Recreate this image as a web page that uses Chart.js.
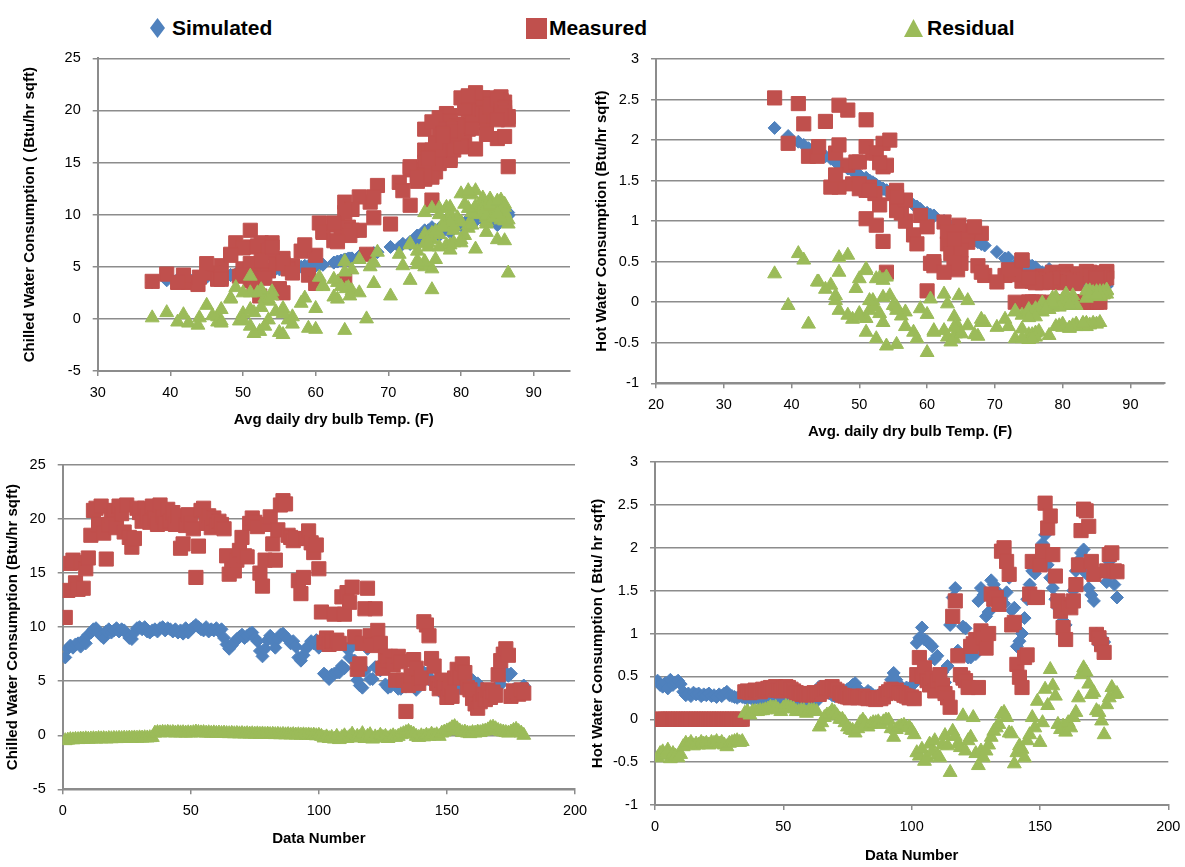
<!DOCTYPE html>
<html>
<head>
<meta charset="utf-8">
<script src="https://cdn.jsdelivr.net/npm/chart.js@4.4.0/dist/chart.umd.min.js"></script>
<style>
  body { margin: 0; background: #fff; width: 1185px; height: 867px; position: relative; overflow: hidden;
         font-family: "Liberation Sans", Arial, sans-serif; }
  canvas { position: absolute; }
  .leg { position: absolute; top: 16px; height: 24px; display: flex; align-items: center;
         font-weight: bold; font-size: 21px; color: #000; }
  .mk { display: inline-block; }
</style>
</head>
<body>

<div class="leg" style="left:150px"><span class="mk" style="width:15px;height:20px;background:#4F81BD;clip-path:polygon(50% 0,100% 50%,50% 100%,0 50%);margin-right:7px"></span>Simulated</div>
<div class="leg" style="left:526px"><span class="mk" style="width:21px;height:21px;background:#C0504D;margin-right:2px"></span>Measured</div>
<div class="leg" style="left:904px"><span class="mk" style="width:19px;height:18px;background:#9BBB59;clip-path:polygon(50% 0,100% 100%,0 100%);margin-right:4px"></span>Residual</div>

<canvas id="tl" width="590" height="400" style="left:0;top:45px"></canvas>
<canvas id="tr" width="595" height="400" style="left:590px;top:45px"></canvas>
<canvas id="bl" width="590" height="422" style="left:0;top:445px"></canvas>
<canvas id="br" width="595" height="422" style="left:590px;top:445px"></canvas>

<script>
// average daily dry bulb temperature (F), one per data number
const tempF = [
  73, 75, 76, 75, 76.5, 75, 75.5, 76, 75.5, 78,
  81, 83, 83, 82, 80, 79.5, 82, 83.5, 82, 83,
  83.5, 83, 83.5, 83.5, 81.5, 80, 79, 81, 84, 85,
  84.5, 85.5, 83, 83, 84, 84.5, 83.5, 85.5, 85.5, 84.5,
  85.5, 84.5, 84, 84.5, 84, 85, 83.5, 85.5, 84, 85.5,
  86.5, 86.5, 86, 86, 85, 86, 86, 86, 85.5, 86.5,
  86, 85.5, 85, 76.5, 77, 78.5, 78.5, 79, 80.5, 81.5,
  80, 80, 81.5, 81, 78, 77, 75, 74, 76, 78.5,
  80.5, 79, 77, 78.5, 81, 82, 81, 79.5, 78.5, 78.5,
  77, 73, 71.5, 73, 75, 76, 77.5, 76.5, 77.5, 75.5,
  76, 64.2, 63, 61, 63.5, 64, 64.5, 65, 68.5, 67.5,
  74, 72, 75, 70.3, 60, 53, 51, 66, 74, 60.5,
  61, 68, 68, 66, 67, 54, 51, 52.5, 58, 56.8,
  49, 50, 51.5, 52.3, 53.5, 54.5, 52, 48.3, 56.2, 55.5,
  65, 64, 62.5, 58.5, 53.5, 50, 46.5, 47, 45.8, 42.5,
  39.5, 37.5, 45, 48.3, 51, 53.5, 55.5, 56.8, 59, 60,
  55, 55.5, 51.5, 46.5, 43.8, 41.8, 41, 47, 51, 52.5,
  54, 62.5, 64.7, 63, 64, 49.5, 44, 47, 50, 53
];

// chilled water (Btu/hr sqft)
const chilledSim = [
  7.2, 8.0, 8.3, 8.1, 8.4, 8.5, 8.2, 8.8, 8.5, 9.3,
  9.5, 9.8, 9.9, 9.5, 9.2, 9.0, 9.6, 9.8, 9.5, 9.7,
  9.9, 9.6, 9.8, 9.7, 9.4, 9.0, 8.9, 9.5, 9.9, 10.0,
  9.8, 10.0, 9.6, 9.5, 9.7, 9.8, 9.6, 9.9, 10.0, 9.7,
  9.9, 9.8, 9.6, 9.8, 9.5, 9.7, 9.4, 9.9, 9.5, 9.8,
  10.0, 10.2, 10.0, 9.8, 9.7, 10.0, 9.6, 9.8, 9.7, 9.9,
  9.6, 9.8, 9.0, 8.4, 8.0, 8.3, 8.6, 8.9, 9.1, 9.3,
  9.0, 9.2, 9.4, 9.5, 9.0, 8.7, 7.8, 7.3, 8.0, 8.8,
  9.2, 8.8, 8.1, 8.9, 9.3, 9.4, 9.1, 8.9, 8.5, 8.7,
  8.2, 7.2, 6.9, 7.4, 8.0, 8.3, 8.7, 8.5, 8.8, 8.1,
  8.6, 5.7, 5.5, 5.2, 5.6, 5.7, 5.8, 5.8, 6.4, 6.2,
  8.0, 7.2, 8.2, 6.9, 5.1, 4.6, 4.4, 6.0, 8.0, 5.2,
  5.2, 6.3, 6.3, 6.0, 6.2, 4.7, 4.4, 4.5, 5.0, 4.9,
  4.3, 4.3, 4.5, 4.5, 4.7, 4.8, 4.5, 4.2, 4.9, 4.8,
  5.8, 5.7, 5.4, 5.1, 4.7, 4.3, 4.1, 4.2, 4.1, 3.9,
  3.7, 3.5, 4.0, 4.2, 4.4, 4.7, 4.8, 4.9, 5.1, 5.1,
  4.75, 4.8, 4.5, 4.1, 3.9, 3.8, 3.8, 4.2, 4.4, 4.5,
  4.7, 5.4, 5.8, 5.5, 5.7, 4.25, 3.9, 4.2, 4.3, 4.6
];
const chilledMeas = [
  10.9, 13.4, 15.9, 16.2, 14.1, 13.5, 16.0, 13.6, 15.4, 16.4,
  18.5, 20.8, 21.0, 19.5, 21.2, 18.7, 16.3, 19.5, 20.3, 20.8,
  19.2, 21.2, 20.5, 18.8, 21.3, 18.3, 17.4, 18.2, 21.0, 20.6,
  19.8, 21.0, 20.3, 19.7, 21.2, 20.1, 19.5, 21.3, 20.2, 19.6,
  20.9, 19.8, 20.6, 19.5, 20.3, 17.3, 17.7, 19.4, 20.4, 19.6,
  19.1, 14.6, 17.5, 20.8, 21.0, 19.6, 20.3, 19.2, 20.1, 19.4,
  19.8, 19.5, 19.1, 16.6, 14.9, 15.4, 15.2, 16.2, 17.1, 18.3,
  16.6, 16.5, 19.6, 20.1, 19.7, 19.3, 15.0, 13.8, 16.2, 19.5,
  20.2, 17.7, 16.2, 19.0, 21.3, 21.7, 21.4, 18.5, 18.3, 18.0,
  18.2, 14.3, 13.1, 14.6, 18.2, 18.9, 17.8, 16.9, 17.6, 15.4,
  11.4, 8.6, 9.0, 8.4, 8.7, 11.2, 8.8, 8.5, 12.8, 11.2,
  13.2, 12.3, 13.7, 9.1, 6.1, 6.6, 8.5, 11.7, 13.6, 9.2,
  8.3, 11.7, 9.7, 8.5, 6.2, 7.3, 6.9, 7.3, 6.5, 5.1,
  7.3, 6.8, 5.1, 2.2, 4.6, 5.5, 7.0, 6.2, 4.8, 5.3,
  10.5, 10.2, 9.2, 7.1, 6.4, 4.8, 4.3, 5.1, 4.4, 3.5,
  4.3, 3.6, 5.3, 6.1, 5.3, 6.6, 5.8, 4.4, 4.2, 3.4,
  2.9, 2.5, 3.1, 3.8, 3.3, 4.2, 3.5, 4.0, 3.7, 5.6,
  6.9, 7.5, 8.0, 7.4, 3.6, 4.1, 4.0, 3.8, 4.2, 3.9
];
// residual as plotted against data number
const chilledResid = [
  -0.50, -0.45, -0.40, -0.42, -0.38, -0.40, -0.35, -0.37, -0.33, -0.36,
  -0.34, -0.32, -0.35, -0.30, -0.33, -0.31, -0.34, -0.30, -0.32, -0.29,
  -0.31, -0.28, -0.30, -0.27, -0.29, -0.26, -0.28, -0.25, -0.27, -0.24,
  -0.26, -0.23, -0.25, -0.22, -0.20, 0.20, 0.25, 0.22, 0.27, 0.24,
  0.28, 0.23, 0.26, 0.21, 0.25, 0.22, 0.24, 0.20, 0.23, 0.21,
  0.24, 0.30, 0.26, 0.22, 0.25, 0.20, 0.23, 0.19, 0.22, 0.18,
  0.21, 0.17, 0.20, 0.16, 0.15, 0.18, 0.14, 0.17, 0.13, 0.16,
  0.12, 0.15, 0.11, 0.14, 0.10, 0.13, 0.09, 0.12, 0.08, 0.11,
  0.07, 0.10, 0.06, 0.09, 0.05, 0.08, 0.04, 0.07, 0.03, 0.06,
  0.02, 0.05, 0.01, 0.04, 0.00, 0.03, -0.02, 0.02, -0.05, 0.00,
  -0.10, -0.25, -0.15, -0.30, -0.20, -0.35, -0.10, -0.40, -0.20, -0.05,
  -0.30, -0.15, 0.10, -0.25, -0.10, -0.20, 0.15, -0.30, -0.10, 0.05,
  -0.35, -0.15, -0.25, 0.00, -0.20, -0.10, -0.30, -0.15, -0.05, -0.20,
  -0.10, 0.05, 0.15, 0.25, 0.35, 0.20, 0.10, -0.10, -0.20, -0.05,
  -0.15, 0.00, -0.10, 0.10, -0.05, 0.05, -0.10, 0.20, 0.30, 0.40,
  0.50, 0.70, 0.80, 0.60, 0.40, 0.25, 0.30, 0.20, 0.15, 0.25,
  0.20, 0.30, 0.25, 0.35, 0.40, 0.50, 0.70, 0.75, 0.60, 0.45,
  0.35, 0.30, 0.25, 0.20, 0.30, 0.45, 0.55, 0.35, 0.20, 0.00
];
// residual as plotted against temperature
const chilledResidTemp = [
  3.7, 5.4, 7.6, 8.1, 5.7, 5.0, 7.8, 4.8, 6.9, 7.1,
  9.0, 11.0, 11.1, 10.0, 12.0, 9.7, 6.7, 9.7, 10.8, 11.1,
  9.3, 11.6, 10.7, 9.1, 11.9, 9.3, 8.5, 8.7, 11.1, 10.6,
  10.0, 11.0, 10.7, 10.2, 11.5, 10.3, 9.9, 11.4, 10.2, 9.9,
  11.0, 10.0, 11.0, 9.7, 10.8, 7.6, 8.3, 9.5, 10.9, 9.8,
  9.1, 4.4, 7.5, 11.0, 11.3, 9.6, 10.7, 9.4, 10.4, 9.5,
  10.2, 9.7, 10.1, 8.2, 6.9, 7.1, 6.6, 7.3, 8.0, 9.0,
  7.6, 7.3, 10.2, 10.6, 10.7, 10.6, 7.2, 6.5, 8.2, 10.7,
  11.0, 8.9, 8.1, 10.1, 12.0, 12.3, 12.3, 9.6, 9.8, 9.3,
  10.0, 7.1, 6.2, 7.2, 10.2, 10.6, 9.1, 8.4, 8.8, 7.3,
  2.8, 2.9, 3.5, 3.2, 3.1, 5.5, 3.0, 2.7, 6.4, 5.0,
  5.2, 5.1, 5.5, 2.2, 1.0, 2.0, 4.1, 5.7, 5.6, 4.0,
  3.1, 5.4, 3.4, 2.5, 0.0, 2.6, 2.5, 2.8, 1.5, 0.2,
  3.0, 2.5, 0.6, -1.2, -0.1, 0.7, 2.5, 2.0, -0.1, 0.5,
  4.7, 4.5, 3.8, 2.0, 1.7, 0.5, 0.2, 0.9, 0.3, -0.4,
  0.6, 0.1, 1.3, 1.9, 0.9, 1.9, 1.0, -0.5, -0.9, -1.0,
  -1.3, -1.5, -1.4, -0.3, -0.6, 0.4, -0.3, -0.2, -0.7, 1.1,
  2.2, 2.1, 2.2, 1.9, -1.1, -0.2, 0.1, -0.4, -0.1, -0.7
];

// hot water (Btu/hr sqft)
const hotSim = [
  0.45, 0.40, 0.38, 0.42, 0.36, 0.46, 0.40, 0.43, 0.45, 0.41,
  0.32, 0.28, 0.30, 0.27, 0.31, 0.29, 0.30, 0.27, 0.29, 0.28,
  0.30, 0.27, 0.28, 0.26, 0.29, 0.27, 0.30, 0.32, 0.28, 0.27,
  0.26, 0.25, 0.27, 0.26, 0.25, 0.24, 0.26, 0.23, 0.25, 0.24,
  0.22, 0.25, 0.23, 0.24, 0.22, 0.21, 0.23, 0.22, 0.24, 0.21,
  0.20, 0.22, 0.21, 0.20, 0.22, 0.21, 0.19, 0.20, 0.21, 0.20,
  0.19, 0.21, 0.21, 0.38, 0.36, 0.33, 0.32, 0.30, 0.28, 0.27,
  0.29, 0.30, 0.28, 0.31, 0.35, 0.37, 0.40, 0.42, 0.36, 0.30,
  0.28, 0.30, 0.33, 0.31, 0.28, 0.27, 0.28, 0.30, 0.29, 0.31,
  0.33, 0.46, 0.54, 0.46, 0.40, 0.38, 0.35, 0.37, 0.34, 0.39,
  0.42, 0.89, 0.95, 1.07, 0.93, 0.91, 0.88, 0.85, 0.70, 0.74,
  0.45, 0.55, 0.43, 0.62, 1.10, 1.42, 1.53, 0.80, 0.45, 1.08,
  1.06, 0.72, 0.72, 0.80, 0.76, 1.38, 1.53, 1.45, 1.20, 1.25,
  1.62, 1.57, 1.50, 1.46, 1.40, 1.35, 1.48, 1.65, 1.27, 1.30,
  0.85, 0.91, 1.00, 1.18, 1.40, 1.57, 1.73, 1.70, 1.77, 1.90,
  2.05, 2.15, 1.80, 1.65, 1.53, 1.40, 1.30, 1.25, 1.15, 1.10,
  1.33, 1.30, 1.50, 1.73, 1.85, 1.94, 1.98, 1.70, 1.53, 1.45,
  1.38, 1.00, 0.87, 0.95, 0.90, 1.60, 1.84, 1.70, 1.57, 1.42
];
const hotMeas = [
  0, 0, 0, 0, 0, 0, 0, 0, 0, 0,
  0, 0, 0, 0, 0, 0, 0, 0, 0, 0,
  0, 0, 0, 0, 0, 0, 0, 0, 0, 0,
  0, 0, 0, 0, 0.32, 0.33, 0.31, 0.32, 0.34, 0.33,
  0.32, 0.35, 0.34, 0.36, 0.37, 0.35, 0.38, 0.34, 0.33, 0.36,
  0.38, 0.37, 0.35, 0.33, 0.31, 0.30, 0.29, 0.30, 0.28, 0.30,
  0.29, 0.31, 0.30, 0.29, 0.32, 0.35, 0.37, 0.36, 0.38, 0.35,
  0.33, 0.30, 0.28, 0.27, 0.26, 0.25, 0.27, 0.26, 0.25, 0.26,
  0.27, 0.25, 0.24, 0.25, 0.24, 0.23, 0.25, 0.24, 0.26, 0.30,
  0.32, 0.35, 0.33, 0.34, 0.31, 0.30, 0.28, 0.27, 0.25, 0.26,
  0.24, 0.52, 0.72, 0.50, 0.60, 0.45, 0.40, 0.48, 0.33, 0.45,
  0.52, 0.40, 0.30, 0.25, 0.14, 1.20, 1.38, 0.74, 0.52, 0.48,
  0.45, 0.37, 0.85, 0.88, 0.93, 0.37, 1.03, 0.95, 0.83, 1.00,
  1.46, 1.40, 1.42, 1.34, 1.96, 2.00, 1.84, 1.69, 1.10, 1.13,
  0.64, 0.49, 0.37, 0.72, 0.75, 1.46, 1.84, 1.42, 1.42, 1.80,
  1.96, 2.52, 2.23, 2.37, 1.92, 1.67, 1.38, 1.26, 1.07, 0.93,
  1.34, 1.30, 1.38, 1.57, 1.80, 2.20, 2.45, 2.43, 2.25, 1.84,
  1.69, 0.99, 0.95, 0.87, 0.78, 1.73, 1.92, 1.94, 1.73, 1.72
];
const hotResid = [
  -0.45, -0.40, -0.38, -0.42, -0.36, -0.46, -0.40, -0.43, -0.45, -0.41,
  -0.32, -0.28, -0.30, -0.27, -0.31, -0.29, -0.30, -0.27, -0.29, -0.28,
  -0.30, -0.27, -0.28, -0.26, -0.29, -0.27, -0.30, -0.32, -0.28, -0.27,
  -0.26, -0.25, -0.27, -0.26, 0.07, 0.09, 0.05, 0.09, 0.09, 0.09,
  0.10, 0.10, 0.11, 0.12, 0.14, 0.13, 0.14, 0.11, 0.09, 0.13,
  0.15, 0.14, 0.13, 0.12, 0.09, 0.09, 0.10, 0.10, 0.07, 0.10,
  0.10, 0.10, 0.09, -0.09, -0.04, 0.02, 0.05, 0.06, 0.10, 0.08,
  0.04, 0.00, 0.00, -0.04, -0.09, -0.12, -0.13, -0.16, -0.11, -0.04,
  -0.01, -0.05, -0.09, -0.06, -0.04, -0.04, -0.03, -0.06, -0.03, -0.01,
  -0.01, -0.11, -0.21, -0.12, -0.09, -0.08, -0.07, -0.10, -0.09, -0.13,
  -0.18, -0.39, -0.43, -0.35, -0.49, -0.45, -0.29, -0.38, -0.25, -0.42,
  -0.45, -0.30, -0.19, -0.31, -0.62, -0.14, -0.20, -0.29, -0.33, 0.04,
  -0.37, -0.25, -0.21, 0.02, -0.40, -0.54, -0.37, -0.45, -0.37, -0.30,
  -0.21, -0.14, -0.10, -0.06, 0.06, 0.08, 0.02, -0.16, -0.17, -0.52,
  -0.39, -0.31, -0.35, -0.45, -0.25, -0.18, 0.02, -0.10, 0.21, -0.27,
  -0.04, 0.35, 0.16, 0.58, 0.39, 0.27, -0.06, -0.12, -0.08, -0.15,
  -0.04, -0.10, 0.02, 0.08, 0.25, 0.52, 0.60, 0.55, 0.41, 0.29,
  0.31, 0.10, 0.08, -0.02, -0.18, 0.17, 0.25, 0.37, 0.29, 0.30
];

const dataNumber = tempF.map((t, i) => i + 1);

const gray = "#8c8c8c";
Chart.defaults.font.family = '"Liberation Sans", Arial, sans-serif';
Chart.defaults.color = "#000";

function series(label, xs, ys, style, color, radius, order) {
  return {
    label: label,
    data: xs.map((x, i) => ({ x: x, y: ys[i] })),
    pointStyle: style,
    pointRadius: radius,
    pointHoverRadius: radius,
    backgroundColor: color,
    borderColor: color,
    borderWidth: 1,
    order: order
  };
}

function drawPanel(id, g, xs, sim, meas, resid) {
  new Chart(document.getElementById(id), {
    type: "scatter",
    data: {
      datasets: [
        series("Simulated", xs, sim, "rectRot", "#4F81BD", 6.5, 3),
        series("Measured", xs, meas, "rect", "#C0504D", 10, 2),
        series("Residual", xs, resid, "triangle", "#9BBB59", 8, 1)
      ]
    },
    options: {
      responsive: false,
      animation: false,
      devicePixelRatio: 1,
      layout: { padding: { top: g.padTop, right: g.padRight, left: 0, bottom: 0 } },
      plugins: { legend: { display: false }, tooltip: { enabled: false } },
      scales: {
        x: {
          type: "linear",
          min: g.xMin, max: g.xMax,
          ticks: { stepSize: g.xStep, includeBounds: false, autoSkip: false, maxRotation: 0,
                   padding: 8, font: { size: 14.5 } },
          grid: { drawOnChartArea: false, drawTicks: true, tickLength: 5, color: gray, lineWidth: 1.5 },
          border: { display: true, color: gray, width: 2 },
          title: { display: true, text: g.xTitle, font: { size: 15, weight: "bold", lineHeight: 1 },
                   padding: { top: 0, bottom: g.xTitlePad } },
          afterFit: function (s) { s.height = g.xHeight; s.paddingLeft = 0; s.paddingRight = 0; }
        },
        y: {
          min: g.yMin, max: g.yMax,
          ticks: { stepSize: g.yStep, padding: 12, font: { size: 14.5 },
                   callback: function (v) { return String(v); } },
          grid: { color: gray, lineWidth: 1.5, tickLength: 5 },
          border: { display: true, color: gray, width: 2 },
          title: { display: true, text: g.yTitle, font: { size: 15, weight: "bold", lineHeight: 1 },
                   padding: { top: g.yTitlePad, bottom: 0 } },
          afterFit: function (s) { s.width = g.yWidth; s.paddingTop = 0; s.paddingBottom = 0; }
        }
      }
    }
  });
}

drawPanel("tl", {
  padTop: 13.3, padRight: 20, yWidth: 97.7, xHeight: 74, yTitlePad: 22.5, xTitlePad: 17.5,
  xMin: 30, xMax: 95, xStep: 10, yMin: -5, yMax: 25, yStep: 5,
  xTitle: "Avg daily dry bulb Temp. (F)", yTitle: "Chilled Water Consumption ( (Btu/hr sqft)"
}, tempF, chilledSim, chilledMeas, chilledResidTemp);

drawPanel("tr", {
  padTop: 14, padRight: 20.7, yWidth: 66, xHeight: 61.7, yTitlePad: 4.2, xTitlePad: 5.5,
  xMin: 20, xMax: 95, xStep: 10, yMin: -1, yMax: 3, yStep: 0.5,
  xTitle: "Avg. daily dry bulb Temp. (F)", yTitle: "Hot Water Consumption (Btu/hr sqft)"
}, tempF, hotSim, hotMeas, hotResid);

drawPanel("bl", {
  padTop: 20, padRight: 15, yWidth: 62.7, xHeight: 77.7, yTitlePad: 5.5, xTitlePad: 20.5,
  xMin: 0, xMax: 200, xStep: 50, yMin: -5, yMax: 25, yStep: 5,
  xTitle: "Data Number", yTitle: "Chilled Water Consumption (Btu/hr sqft)"
}, dataNumber, chilledSim, chilledMeas, chilledResid);

drawPanel("br", {
  padTop: 17, padRight: 16.7, yWidth: 65, xHeight: 62, yTitlePad: 0, xTitlePad: 3.5,
  xMin: 0, xMax: 200, xStep: 50, yMin: -1, yMax: 3, yStep: 0.5,
  xTitle: "Data Number", yTitle: "Hot Water Consumption ( Btu/ hr sqft)"
}, dataNumber, hotSim, hotMeas, hotResid);
</script>
</body>
</html>
